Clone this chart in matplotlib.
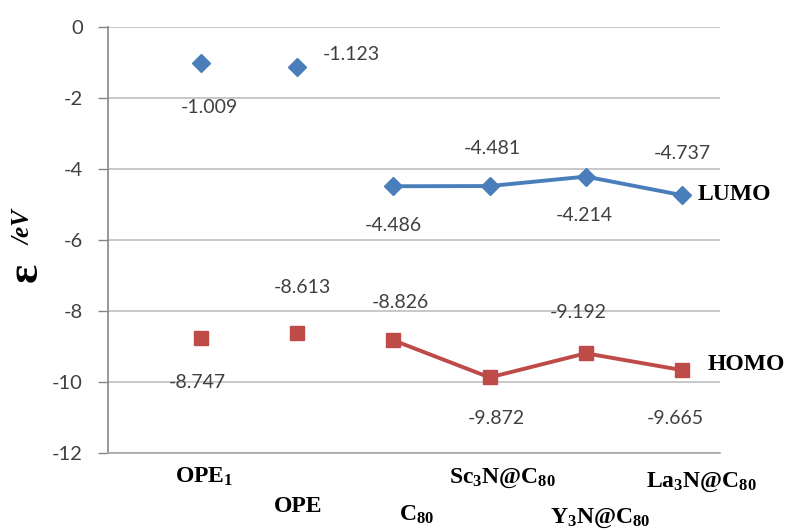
import numpy as np
import matplotlib.pyplot as plt

# molecules on the x axis
categories = ['OPE$_1$', 'OPE', 'C$_{80}$', 'Sc$_3$N@C$_{80}$',
              'Y$_3$N@C$_{80}$', 'La$_3$N@C$_{80}$']
lumo = [-1.009, -1.123, -4.486, -4.481, -4.214, -4.737]
homo = [-8.747, -8.613, -8.826, -9.872, -9.192, -9.665]
lumo_labels = ['-1.009', '-1.123', '-4.486', '-4.481', '-4.214', '-4.737']
homo_labels = ['-8.747', '-8.613', '-8.826', '-9.872', '-9.192', '-9.665']
yticks = [0, -2, -4, -6, -8, -10, -12]

# label offsets in pixels (dx, dy)
lumo_off = [(8, -45), (54, 12), (0, -39), (3, 38), (-2, -39), (0, 42)]
homo_off = [(-4, -45), (5, 45), (7, 38), (7, -41), (-8, 41), (-7, -48)]
cat_off = [(3, -24), (1, -54), (23, -62), (13, -25), (14, -65), (19, -29)]

plt.rcParams['mathtext.fontset'] = 'custom'
plt.rcParams['mathtext.rm'] = 'Liberation Serif:bold'
plt.rcParams['mathtext.default'] = 'rm'

BLUE = '#4A7EBB'
RED = '#BE4B48'
GREY_TXT = '#404040'
NUM_FONT = 'Lato'
SERIF = 'Liberation Serif'

fig = plt.figure(figsize=(7.98, 5.30), dpi=100)
ax = fig.add_axes([0.1353, 0.1453, 0.7670, 0.8038])

x = np.arange(1, len(categories) + 1)

# first two molecules are single points, the fullerenes are joined
ax.plot(x[:2], lumo[:2], 'D', color=BLUE, markersize=9, linestyle='none')
ax.plot(x[2:], lumo[2:], '-D', color=BLUE, markersize=9, linewidth=2.8)
ax.plot(x[:2], homo[:2], 's', color=RED, markersize=10, linestyle='none')
ax.plot(x[2:], homo[2:], '-s', color=RED, markersize=10, linewidth=2.8)

for i in range(len(x)):
    ax.annotate(lumo_labels[i], xy=(x[i], lumo[i]), xytext=lumo_off[i],
                textcoords='offset pixels', ha='center', va='center',
                fontsize=14, color=GREY_TXT, family=NUM_FONT)
    ax.annotate(homo_labels[i], xy=(x[i], homo[i]), xytext=homo_off[i],
                textcoords='offset pixels', ha='center', va='center',
                fontsize=14, color=GREY_TXT, family=NUM_FONT)
    ax.annotate(categories[i], xy=(x[i], -12), xytext=cat_off[i],
                textcoords='offset pixels', ha='center', va='center',
                fontsize=17, fontweight='bold', family=SERIF,
                annotation_clip=False)

# series names at the right end
ax.annotate('LUMO', xy=(x[-1], lumo[-1]), xytext=(16, 1),
            textcoords='offset pixels', ha='left', va='center',
            fontsize=17, fontweight='bold', family=SERIF, annotation_clip=False)
ax.annotate('HOMO', xy=(x[-1], homo[-1]), xytext=(26, 6),
            textcoords='offset pixels', ha='left', va='center',
            fontsize=17, fontweight='bold', family=SERIF, annotation_clip=False)

ax.set_xlim(0.033, 6.395)
ax.set_ylim(-12, 0)
ax.set_yticks(yticks)
ax.set_yticklabels([str(t) for t in yticks], family=NUM_FONT, fontsize=14.5,
                   color=GREY_TXT)
ax.set_xticks([])
ax.tick_params(axis='y', length=7, width=1, color='#868686', pad=11)

ax.grid(axis='y', color='#BFBFBF', linewidth=1.2)
ax.set_axisbelow(True)
for side in ['top', 'right']:
    ax.spines[side].set_visible(False)
ax.spines['left'].set_color('#868686')
ax.spines['bottom'].set_color('#A6A6A6')
ax.spines['left'].set_linewidth(1.2)
ax.spines['bottom'].set_linewidth(1.2)

# y axis title: large epsilon followed by the unit
fig.text(37 / 798, 1 - 282 / 530, '\u025b', rotation=90, rotation_mode='anchor',
         ha='left', va='baseline', fontsize=32, fontweight='bold', family=SERIF)
fig.text(31 / 798, 1 - 245 / 530, '/eV', rotation=90, rotation_mode='anchor',
         ha='left', va='baseline', fontsize=18, fontweight='bold',
         style='italic', family=SERIF)

fig.savefig('out.png', dpi=100)
